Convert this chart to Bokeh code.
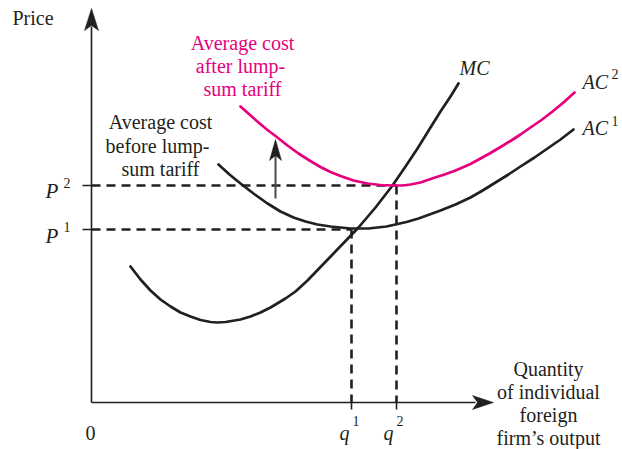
from bokeh.plotting import figure
from bokeh.models import Range1d
from bokeh.embed import file_html
from bokeh.resources import INLINE
from bokeh.core.properties import value

# ---- data (quantity, price), origin of the diagram at (0, 0) ----
q_levels = [260, 305]          # q1, q2
p_levels = [173, 217]          # P1, P2
q_labels = ["q", "q"]
q_sups = ["1", "2"]
p_sups = ["1", "2"]

mc_q = [39, 49, 59, 69, 79, 89, 99, 109, 119, 126, 134, 149, 159, 169, 179, 194, 204, 216,
        229, 242, 254, 267, 284, 301, 314, 326, 339, 349, 359, 367]
mc_c = [136, 123, 112, 103, 96, 90, 86, 82.5, 80.5, 80, 80.5, 83, 86, 90, 95, 104, 111, 122,
        135.5, 149, 161.5, 175, 195, 217, 236, 254, 275, 291, 306, 319]

ac1_q = [127, 138, 149, 162, 176, 189, 202, 214, 226, 239, 249, 259, 267, 277, 286, 295, 304,
         315, 327, 338, 349, 364, 379, 392, 404, 417, 429, 443, 456, 469, 482]
ac1_c = [238, 228, 219, 209, 199, 191, 185, 181, 178, 176, 175, 174, 174, 174, 175, 176, 178,
         180.5, 184, 188, 192, 198, 205, 212.5, 220, 228, 236, 245, 254, 263, 273]

ac2_q = [149, 158, 167, 176, 186, 196, 207, 218, 229, 239, 249, 262, 276, 289, 302, 311, 319,
         329, 342, 353, 364, 379, 389, 399, 409, 419, 429, 439, 450, 461, 472, 483]
ac2_c = [296, 288, 280, 272.5, 265, 257, 249, 242, 235.5, 230.5, 226.5, 222, 219, 217.5, 217,
         217, 218, 220, 224.5, 228, 232, 238.5, 244, 249.5, 255.5, 261.5, 268, 275, 282.5, 291,
         300, 310]

q_axis_end = 402
p_axis_end = 394
shift_q = 184                  # where the upward shift arrow sits
shift_from, shift_to = 204, 263

INK = "#231f20"
PINK = "#e6007e"
SERIF = value("Liberation Serif")
TEXT_DY = 7                    # compensates the SVG baseline placement

p = figure(width=622, height=449, x_range=Range1d(-91, 531), y_range=Range1d(-47, 402),
           x_axis_type=None, y_axis_type=None, toolbar_location=None,
           output_backend="svg", min_border=0, outline_line_color=None,
           background_fill_color="white", border_fill_color="white")


def head(tx, ty, dx, dy, length, half, notch):
    # arrowhead polygon: tip, back corner, notch, back corner
    bx, by = tx - dx * length, ty - dy * length
    nx, ny = tx - dx * notch, ty - dy * notch
    px_, py_ = -dy, dx
    xs = [tx, bx + px_ * half, nx, bx - px_ * half]
    ys = [ty, by + py_ * half, ny, by - py_ * half]
    return xs, ys


# axes
p.segment(x0=[0, 0], y0=[0, 0], x1=[0, q_axis_end - 18], y1=[p_axis_end - 18, 0],
          line_color=INK, line_width=1.6)
hx1, hy1 = head(0, p_axis_end, 0, 1, 22, 7, 17)
hx2, hy2 = head(q_axis_end, 0, 1, 0, 21, 7, 16)
hx3, hy3 = head(shift_q, shift_to, 0, 1, 21, 6, 16)
p.patches(xs=[hx1, hx2], ys=[hy1, hy2], fill_color=INK, line_color=INK, line_width=0.5)

# ticks
p.segment(x0=[-9, -9], y0=p_levels, x1=[0, 0], y1=p_levels, line_color=INK, line_width=1.6)
p.segment(x0=q_levels, y0=[0, 0], x1=q_levels, y1=[-7, -7], line_color=INK, line_width=1.6)

# dashed guides
p.segment(x0=[0, 0], y0=p_levels, x1=q_levels, y1=p_levels,
          line_color=INK, line_width=2.6, line_dash="9 6")
p.segment(x0=q_levels, y0=p_levels, x1=q_levels, y1=[0, 0],
          line_color=INK, line_width=2.6, line_dash="9 6")

# curves
p.line(mc_q, mc_c, line_color=INK, line_width=2.7, line_join="round", line_cap="round")
p.line(ac1_q, ac1_c, line_color=INK, line_width=2.7, line_join="round", line_cap="round")
p.line(ac2_q, ac2_c, line_color=PINK, line_width=2.7, line_join="round", line_cap="round")

# shift arrow
p.segment(x0=[shift_q], y0=[shift_from], x1=[shift_q], y1=[shift_to - 15],
          line_color="#4a4a4a", line_width=2)
p.patches(xs=[hx3], ys=[hy3], fill_color=INK, line_color=INK, line_width=0.5)


# texts
def txt(xs, ys, texts, size="20px", align="left", style="normal", color=INK):
    p.text(x=xs, y=[y + TEXT_DY for y in ys], text=texts, text_font=SERIF,
           text_font_size=size, text_align=align, text_baseline="alphabetic",
           text_font_style=style, text_color=color)


txt([-79], [378], ["Price"])
txt([151, 149, 151], [353, 330, 307], ["Average cost", "after lump-", "sum tariff"],
    align="center", color=PINK)
txt([69, 66, 69], [274, 250, 227], ["Average cost", "before lump-", "sum tariff"],
    align="center")
txt([457, 457, 457, 457], [27, 4, -19, -42],
    ["Quantity", "of individual", "foreign", "firm\u2019s output"], align="center")
txt([-1], [-37], ["0"], align="center")

# q labels
txt([q_levels[0] - 12, q_levels[1] - 13], [-37, -37], q_labels, style="italic")
txt([q_levels[0] + 1, q_levels[1]], [-25, -25], q_sups, size="14px")

# P labels
txt([-46, -46], [p_levels[0] - 13, p_levels[1] - 12], ["P", "P"], size="21px", style="italic")
txt([-28, -28], [p_levels[0] - 4, p_levels[1] - 4], p_sups, size="14px")

# curve labels
txt([368], [328], ["MC"], style="italic")
txt([491, 491], [314, 268], ["AC", "AC"], style="italic")
txt([520, 520], [322, 275], ["2", "1"], size="14px")

open("out.html", "w").write(file_html(p, INLINE))
